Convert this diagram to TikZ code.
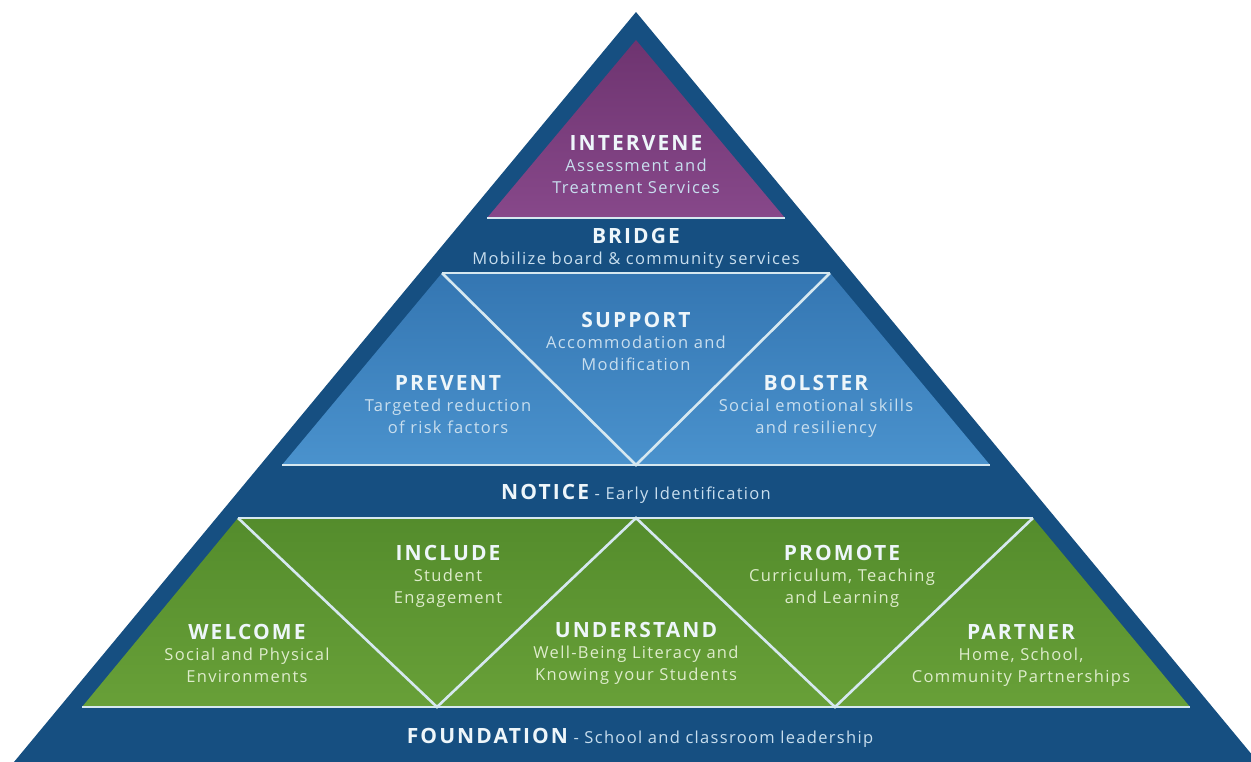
\documentclass[tikz,border=0pt]{standalone}
\usepackage{fontspec}
\setmainfont{Open Sans}[LetterSpace=8]
\newfontfamily\headfont{Open Sans}[LetterSpace=10]
\usepackage{tikz}
\usetikzlibrary{positioning}

\definecolor{navy}{RGB}{22,79,129}
\definecolor{plumtop}{RGB}{110,52,112}
\definecolor{plumbot}{RGB}{135,72,138}
\definecolor{skytop}{RGB}{52,118,178}
\definecolor{skybot}{RGB}{74,146,205}
\definecolor{leaftop}{RGB}{84,140,44}
\definecolor{leafbot}{RGB}{104,160,56}
\definecolor{rim}{RGB}{214,232,240}
\definecolor{ttlcol}{RGB}{238,246,250}
\definecolor{subblue}{RGB}{200,222,238}
\definecolor{subgreen}{RGB}{222,236,204}

\newcommand{\ttl}[1]{{\headfont\fontsize{21}{21}\selectfont\bfseries\color{ttlcol}#1}}

\tikzset{
    blk/.style={anchor=north, align=center, inner sep=0pt, text=subblue, font=\fontsize{16.5}{21.5}\selectfont},
    gblk/.style={blk, text=subgreen},
    band/.style={anchor=base, inner sep=0pt, text=subblue, font=\fontsize{16.5}{21.5}\selectfont},
    rimline/.style={draw=rim, line width=2.6pt},
}

\begin{document}
\begin{tikzpicture}[x=1pt, y=-1pt]
    \useasboundingbox (0,0) rectangle (1251,761);

    \coordinate (apex) at (636,12);
    \coordinate (baseL) at (9,768);
    \coordinate (baseR) at (1263,768);
    \fill[navy] (apex) -- (baseR) -- (baseL) -- cycle;

    \coordinate (p1) at (636,40);
    \coordinate (p2) at (785,218);
    \coordinate (p3) at (487,218);
    \shade[top color=plumtop, bottom color=plumbot] (p1) -- (p2) -- (p3) -- cycle;
    \draw[rimline] (p3) -- (p2);

    \coordinate (b1) at (442,273);
    \coordinate (b2) at (830,273);
    \coordinate (b3) at (990,465);
    \coordinate (b4) at (282,465);
    \coordinate (bm) at (636,465);
    \shade[top color=skytop, bottom color=skybot] (b1) -- (b2) -- (b3) -- (b4) -- cycle;
    \draw[rimline] (b1) -- (b2) (b4) -- (b3);
    \draw[rimline] (b1) -- (bm) -- (b2);

    \coordinate (g1) at (238,518);
    \coordinate (g2) at (1033,518);
    \coordinate (g3) at (1190,707);
    \coordinate (g4) at (82,707);
    \coordinate (gt) at (636,518);
    \coordinate (gl) at (437,707);
    \coordinate (gr) at (835,707);
    \shade[top color=leaftop, bottom color=leafbot] (g1) -- (g2) -- (g3) -- (g4) -- cycle;
    \draw[rimline] (g1) -- (g2) (g4) -- (g3);
    \draw[rimline] (g1) -- (gl) -- (gt) -- (gr) -- (g2);

    \node[blk] (intervene) at (636,135) {\ttl{INTERVENE}\\Assessment and\\Treatment Services};
    \node[blk] (bridge) at (636,228) {\ttl{BRIDGE}\\Mobilize board \& community services};
    \node[blk] (support) at (636,312) {\ttl{SUPPORT}\\Accommodation and\\Modification};
    \node[blk] (prevent) at (448,375) {\ttl{PREVENT}\\Targeted reduction\\of risk factors};
    \node[blk] (bolster) at (816,375) {\ttl{BOLSTER}\\Social emotional skills\\and resiliency};
    \node[band] (notice) at (636,499) {\ttl{NOTICE} - Early Identification};
    \node[gblk] (include) at (448,545) {\ttl{INCLUDE}\\Student\\Engagement};
    \node[gblk] (promote) at (842,545) {\ttl{PROMOTE}\\Curriculum, Teaching\\and Learning};
    \node[gblk] (welcome) at (247,624) {\ttl{WELCOME}\\Social and Physical\\Environments};
    \node[gblk] (understand) at (636,622) {\ttl{UNDERSTAND}\\Well-Being Literacy and\\Knowing your Students};
    \node[gblk] (partner) at (1021,624) {\ttl{PARTNER}\\Home, School,\\Community Partnerships};
    \node[band] (foundation) at (640,743) {\ttl{FOUNDATION} - School and classroom leadership};
\end{tikzpicture}
\end{document}
